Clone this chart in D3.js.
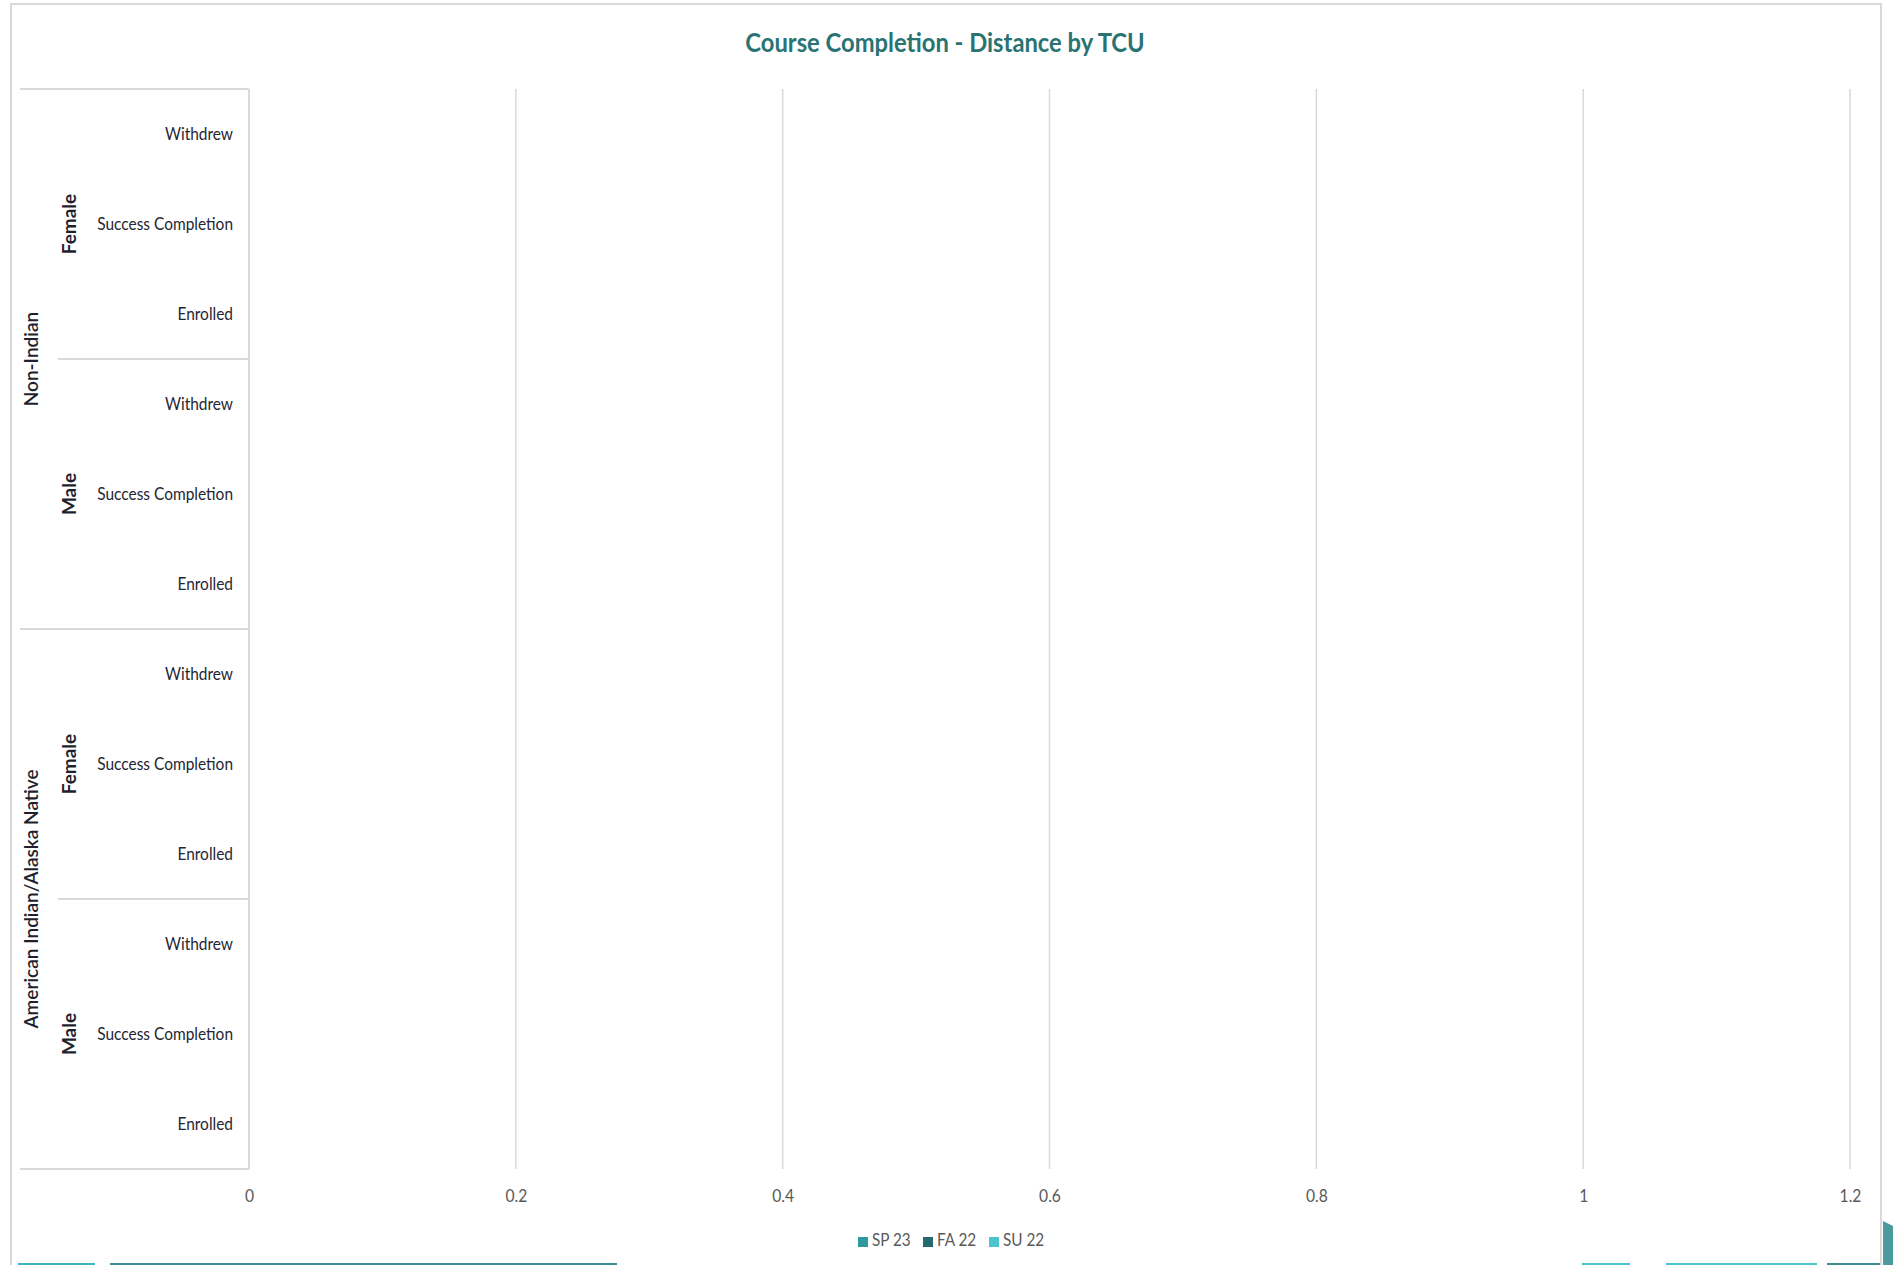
<!DOCTYPE html>
<html>
<head>
<meta charset="utf-8">
<script src="https://cdn.jsdelivr.net/npm/d3@7"></script>
<style>
  html, body { margin: 0; padding: 0; background: #ffffff; }
  svg { display: block; }
  text { font-family: Lato, "Open Sans", "Liberation Sans", sans-serif; }
</style>
</head>
<body>
<svg id="chart" width="1893" height="1265"></svg>
<script>
// ---- data (top-to-bottom order as displayed) ----
const races = ["Non-Indian", "American Indian/Alaska Native"];
const genders = ["Female", "Male"];
const statuses = ["Withdrew", "Success Completion", "Enrolled"];
const seriesNames = ["SP 23", "FA 22", "SU 22"];
const seriesColors = ["#2e9aa0", "#236b70", "#4fc3cb"];
// all values are empty (zero) in the reference
const sp23 = [0, 0, 0, 0, 0, 0, 0, 0, 0, 0, 0, 0];
const fa22 = [0, 0, 0, 0, 0, 0, 0, 0, 0, 0, 0, 0];
const su22 = [0, 0, 0, 0, 0, 0, 0, 0, 0, 0, 0, 0];
const xTicks = [0, 0.2, 0.4, 0.6, 0.8, 1, 1.2];
const xTickLabels = ["0", "0.2", "0.4", "0.6", "0.8", "1", "1.2"];

(function () {
const rows = [];
races.forEach(r => genders.forEach(g => statuses.forEach(s => rows.push({race: r, gender: g, status: s, key: r + "|" + g + "|" + s}))));
const seriesVals = [sp23, fa22, su22];

const svg = d3.select("#chart");

// chart area border
svg.append("rect").attr("x", 11).attr("y", 4).attr("width", 1870).attr("height", 1300)
  .attr("fill", "#ffffff").attr("stroke", "#d9d9d9").attr("stroke-width", 2);

// background decorations peeking at bottom / right
const deco = svg.append("g");
[[18, 95, "#3fb5bd"], [110, 617, "#3a8f93"], [1582, 1630, "#4fc3cb"], [1666, 1817, "#4fc3cb"], [1827, 1880, "#3a8f93"]].forEach(d => {
  deco.append("rect").attr("x", d[0]).attr("y", 1263).attr("width", d[1] - d[0]).attr("height", 2).attr("fill", d[2]);
});
deco.append("path").attr("d", "M1883,1221 L1893,1226 L1893,1265 L1883,1265 Z").attr("fill", "#4a9a9e");

const pL = 249, pR = 1850, pT = 89, pB = 1169;
const x = d3.scaleLinear().domain([0, 1.2]).range([pL, pR]);
const y = d3.scaleBand().domain(rows.map(d => d.key)).range([pT, pB]).paddingInner(0).paddingOuter(0);

// gridlines
svg.append("g").selectAll("line").data(xTicks.slice(1)).join("line")
  .attr("x1", d => x(d)).attr("x2", d => x(d))
  .attr("y1", pT).attr("y2", pB)
  .attr("stroke", "#d9d9d9").attr("stroke-width", 1.5);

// bars (all zero width)
const sub = d3.scaleBand().domain(seriesNames).range([0, y.bandwidth()]).padding(0.1);
seriesNames.forEach((s, si) => {
  svg.append("g").selectAll("rect").data(rows).join("rect")
    .attr("x", x(0))
    .attr("y", (d) => y(d.key) + sub(s))
    .attr("width", (d, i) => x(seriesVals[si][i]) - x(0))
    .attr("height", sub.bandwidth())
    .attr("fill", seriesColors[si]);
});

// x axis labels
const xf = 0.92;
const xAxis = d3.axisBottom(x).tickValues(xTicks).tickFormat((d, i) => xTickLabels[i]).tickSize(0).tickPadding(0);
const xg = svg.append("g").attr("transform", `translate(0, ${pB})`).call(xAxis);
xg.select(".domain").remove();
xg.selectAll("text").attr("dy", null).attr("y", 29).attr("dominant-baseline", "middle")
  .attr("transform", `scale(${xf},1)`)
  .attr("fill", "#595959").style("font-size", "17px").style("font-family", "Lato, 'Open Sans', sans-serif");

// y axis line
const axisColor = "#d9d9d9";
svg.append("line").attr("x1", pL).attr("x2", pL).attr("y1", pT).attr("y2", pB)
  .attr("stroke", axisColor).attr("stroke-width", 2);

// category labels
const yf = 0.86;
const yAxis = d3.axisLeft(y).tickFormat(k => k.split("|")[2]).tickSize(0).tickPadding(16);
const yg = svg.append("g").attr("transform", `translate(${pL}, 0)`).call(yAxis);
yg.select(".domain").remove();
yg.selectAll("text").attr("x", -16 / yf).attr("transform", `scale(${yf},1)`)
  .attr("fill", "#262633").style("font-size", "18px")
  .style("font-family", "Lato, 'Open Sans', sans-serif");

// group separators and labels
const raceGroups = d3.groups(rows, d => d.race);
const sepLines = svg.append("g").attr("stroke", axisColor).attr("stroke-width", 2);
sepLines.append("line").attr("x1", 20).attr("x2", pL).attr("y1", pT).attr("y2", pT);
raceGroups.forEach(([race, rs]) => {
  const y0 = y(rs[0].key), y1 = y(rs[rs.length - 1].key) + y.bandwidth();
  sepLines.append("line").attr("x1", 20).attr("x2", pL).attr("y1", y1).attr("y2", y1);
  svg.append("text").text(race)
    .attr("transform", `translate(33, ${(y0 + y1) / 2}) rotate(-90)`)
    .attr("text-anchor", "middle").attr("dominant-baseline", "middle")
    .attr("fill", "#1f1f2e").style("font-size", "19px").style("font-weight", "600");
  const gGroups = d3.groups(rs, d => d.gender);
  gGroups.forEach(([g, gs], gi) => {
    const g0 = y(gs[0].key), g1 = y(gs[gs.length - 1].key) + y.bandwidth();
    if (gi < gGroups.length - 1) {
      sepLines.append("line").attr("x1", 58).attr("x2", pL).attr("y1", g1).attr("y2", g1);
    }
    svg.append("text").text(g)
      .attr("transform", `translate(71, ${(g0 + g1) / 2}) rotate(-90)`)
      .attr("text-anchor", "middle").attr("dominant-baseline", "middle")
      .attr("fill", "#1f1f2e").style("font-size", "19px").style("font-weight", "700");
  });
});

// title
svg.append("g").attr("transform", "translate(945, 45) scale(0.88, 1)")
  .append("text").text("Course Completion - Distance by TCU")
  .attr("x", 0).attr("y", 0).attr("text-anchor", "middle").attr("dominant-baseline", "middle")
  .attr("fill", "#2a7373").style("font-size", "27px").style("font-weight", "700");

// legend
const legendX = [858, 923, 989];
const lg = svg.append("g");
seriesNames.forEach((s, i) => {
  lg.append("rect").attr("x", legendX[i]).attr("y", 1237).attr("width", 10).attr("height", 10).attr("fill", seriesColors[i]);
  lg.append("g").attr("transform", `translate(${legendX[i] + 14}, 1242) scale(0.9, 1)`)
    .append("text").text(s).attr("x", 0).attr("y", 0).attr("dominant-baseline", "middle")
    .attr("fill", "#595959").style("font-size", "17px");
});
})();
</script>
</body>
</html>
